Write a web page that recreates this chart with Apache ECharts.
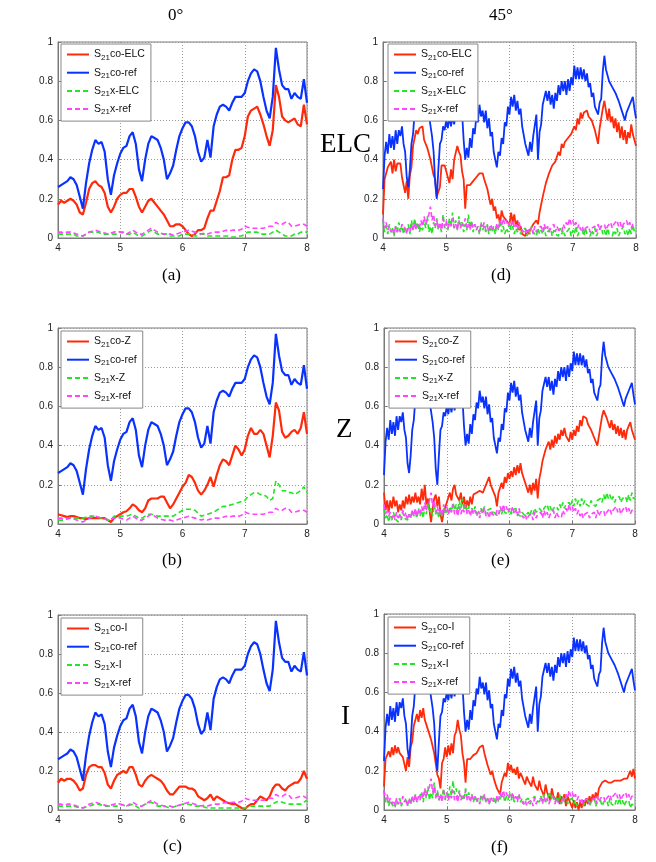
<!DOCTYPE html>
<html>
<head>
<meta charset="utf-8">
<script src="https://cdn.jsdelivr.net/npm/echarts@6/dist/echarts.min.js"></script>
<style>
html,body{margin:0;padding:0;background:#fff;}
#c{width:656px;height:862px;}
</style>
</head>
<body>
<div id="c"></div>
<script>
// ---------- 0 degree data (x = 4..8 GHz, step 0.05) ----------
const ref0Co = [0.26,0.27,0.28,0.29,0.31,0.30,0.27,0.21,0.15,0.28,
 0.38,0.45,0.50,0.48,0.49,0.44,0.30,0.22,0.32,0.38,
 0.43,0.46,0.47,0.52,0.54,0.48,0.35,0.29,0.40,0.48,
 0.52,0.51,0.50,0.46,0.40,0.30,0.33,0.37,0.45,0.52,
 0.56,0.59,0.59,0.57,0.52,0.44,0.39,0.41,0.50,0.41,
 0.57,0.63,0.67,0.68,0.67,0.65,0.69,0.72,0.72,0.72,
 0.74,0.80,0.84,0.86,0.85,0.80,0.72,0.65,0.61,0.72,
 0.97,0.86,0.78,0.76,0.76,0.71,0.74,0.72,0.71,0.81,
 0.69];
const ref0X = [0.03,0.03,0.025,0.03,0.03,0.025,0.02,0.015,0.01,0.02,
 0.03,0.035,0.04,0.035,0.03,0.025,0.02,0.025,0.03,0.035,
 0.03,0.025,0.02,0.03,0.04,0.03,0.02,0.02,0.03,0.04,
 0.05,0.04,0.03,0.025,0.02,0.02,0.02,0.015,0.02,0.025,
 0.03,0.035,0.04,0.035,0.03,0.025,0.02,0.025,0.02,0.025,
 0.03,0.03,0.03,0.035,0.04,0.035,0.04,0.04,0.04,0.045,
 0.06,0.055,0.05,0.05,0.05,0.05,0.05,0.055,0.06,0.06,
 0.08,0.07,0.07,0.08,0.08,0.06,0.06,0.065,0.07,0.07,
 0.06];
const elc0Co = [0.17,0.19,0.18,0.19,0.20,0.19,0.17,0.13,0.12,0.18,
 0.25,0.28,0.29,0.27,0.26,0.23,0.16,0.13,0.16,0.20,
 0.22,0.23,0.23,0.25,0.25,0.21,0.16,0.13,0.16,0.19,
 0.20,0.18,0.16,0.14,0.12,0.09,0.06,0.06,0.07,0.07,
 0.06,0.04,0.02,0.01,0.02,0.04,0.04,0.05,0.10,0.14,
 0.14,0.19,0.24,0.31,0.31,0.32,0.40,0.45,0.45,0.46,
 0.52,0.62,0.65,0.66,0.67,0.63,0.58,0.52,0.47,0.55,
 0.78,0.72,0.62,0.60,0.59,0.60,0.61,0.58,0.57,0.68,
 0.58];
const elc0X = [0.02,0.02,0.02,0.02,0.02,0.02,0.01,0.01,0.01,0.02,
 0.03,0.03,0.03,0.03,0.02,0.02,0.02,0.02,0.02,0.02,
 0.03,0.03,0.02,0.02,0.03,0.02,0.01,0.01,0.02,0.03,
 0.04,0.03,0.02,0.02,0.02,0.02,0.01,0.01,0.01,0.01,
 0.02,0.02,0.02,0.02,0.01,0.01,0.02,0.02,0.01,0.01,
 0.01,0.01,0.01,0.01,0.01,0.01,0.005,0.005,0.01,0.01,
 0.02,0.03,0.03,0.03,0.03,0.02,0.02,0.02,0.02,0.03,
 0.04,0.03,0.02,0.01,0.01,0.01,0.02,0.02,0.03,0.03,
 0.03];
const z0Co = [0.05,0.045,0.04,0.035,0.04,0.04,0.035,0.03,0.03,0.025,
 0.03,0.03,0.03,0.03,0.03,0.03,0.02,0.01,0.03,0.04,
 0.05,0.06,0.065,0.08,0.10,0.09,0.07,0.06,0.08,0.12,
 0.13,0.13,0.13,0.14,0.14,0.11,0.08,0.10,0.13,0.16,
 0.19,0.21,0.25,0.24,0.21,0.17,0.15,0.17,0.20,0.24,
 0.19,0.25,0.30,0.33,0.32,0.30,0.35,0.40,0.38,0.35,
 0.38,0.45,0.49,0.46,0.46,0.48,0.46,0.40,0.34,0.45,
 0.62,0.58,0.47,0.44,0.45,0.47,0.48,0.46,0.49,0.57,
 0.46];
const z0X = [0.02,0.02,0.02,0.025,0.03,0.03,0.03,0.03,0.03,0.035,
 0.04,0.04,0.04,0.035,0.03,0.03,0.02,0.02,0.04,0.04,
 0.04,0.04,0.04,0.045,0.05,0.04,0.03,0.03,0.04,0.05,
 0.05,0.045,0.04,0.04,0.04,0.04,0.04,0.04,0.05,0.06,
 0.07,0.075,0.075,0.075,0.07,0.055,0.04,0.045,0.05,0.055,
 0.06,0.07,0.08,0.09,0.09,0.095,0.10,0.105,0.11,0.115,
 0.12,0.14,0.15,0.16,0.16,0.15,0.15,0.14,0.12,0.13,
 0.22,0.20,0.17,0.17,0.16,0.16,0.15,0.16,0.17,0.19,
 0.16];
const i0Co = [0.14,0.16,0.15,0.16,0.16,0.15,0.13,0.10,0.11,0.18,
 0.22,0.23,0.23,0.22,0.22,0.19,0.13,0.11,0.15,0.18,
 0.19,0.20,0.19,0.22,0.22,0.18,0.13,0.12,0.15,0.17,
 0.18,0.17,0.16,0.15,0.13,0.10,0.08,0.08,0.10,0.12,
 0.12,0.12,0.11,0.11,0.10,0.07,0.06,0.05,0.06,0.08,
 0.05,0.07,0.06,0.05,0.04,0.035,0.03,0.03,0.02,0.01,
 0.005,0.02,0.03,0.03,0.05,0.07,0.06,0.05,0.07,0.11,
 0.13,0.13,0.11,0.10,0.12,0.13,0.14,0.14,0.16,0.20,
 0.16];
const i0X = [0.02,0.02,0.02,0.02,0.02,0.02,0.015,0.015,0.01,0.015,
 0.02,0.025,0.03,0.03,0.025,0.02,0.02,0.02,0.02,0.02,
 0.03,0.025,0.02,0.025,0.03,0.02,0.01,0.02,0.03,0.035,
 0.04,0.03,0.02,0.02,0.02,0.015,0.01,0.015,0.02,0.025,
 0.03,0.03,0.03,0.025,0.02,0.02,0.02,0.015,0.01,0.01,
 0.01,0.01,0.01,0.01,0.01,0.01,0.01,0.01,0.01,0.01,
 0.01,0.015,0.02,0.02,0.02,0.02,0.02,0.02,0.02,0.03,
 0.04,0.045,0.04,0.035,0.03,0.03,0.03,0.03,0.03,0.04,
 0.05];

// ---------- 45 degree data (x = 4..8 GHz, step 0.025) ----------
const ref45Co = [0.25,0.42,0.49,0.43,0.53,0.46,0.52,0.45,0.55,0.48,
 0.55,0.52,0.57,0.48,0.44,0.31,0.26,0.35,0.48,0.53,
 0.64,0.63,0.70,0.67,0.72,0.65,0.71,0.64,0.72,0.63,
 0.64,0.52,0.44,0.28,0.20,0.35,0.48,0.50,0.57,0.55,
 0.60,0.56,0.62,0.57,0.62,0.58,0.64,0.60,0.66,0.61,
 0.64,0.50,0.40,0.46,0.41,0.51,0.46,0.56,0.53,0.62,
 0.59,0.68,0.62,0.65,0.59,0.65,0.56,0.61,0.52,0.54,
 0.44,0.43,0.36,0.44,0.42,0.51,0.48,0.59,0.57,0.67,
 0.63,0.72,0.67,0.73,0.65,0.70,0.63,0.66,0.57,0.58,
 0.48,0.49,0.42,0.49,0.44,0.52,0.52,0.63,0.40,0.54,
 0.58,0.68,0.67,0.75,0.70,0.75,0.68,0.73,0.66,0.74,
 0.70,0.78,0.73,0.80,0.75,0.80,0.73,0.81,0.75,0.82,
 0.78,0.88,0.81,0.87,0.81,0.87,0.81,0.86,0.80,0.84,
 0.77,0.79,0.72,0.74,0.67,0.68,0.63,0.69,0.71,0.85,
 0.93,0.86,0.85,0.80,0.79,0.77,0.77,0.74,0.73,0.70,
 0.70,0.65,0.65,0.60,0.64,0.63,0.68,0.69,0.72,0.66,
 0.61];
const ref45X = [0.10,0.05,0.08,0.04,0.06,0.03,0.05,0.02,0.06,0.03,
 0.05,0.03,0.07,0.04,0.06,0.02,0.05,0.03,0.07,0.04,
 0.08,0.04,0.07,0.05,0.09,0.06,0.11,0.07,0.10,0.12,
 0.16,0.09,0.12,0.06,0.09,0.05,0.08,0.04,0.10,0.06,
 0.09,0.05,0.08,0.06,0.10,0.05,0.07,0.04,0.09,0.05,
 0.08,0.06,0.10,0.05,0.07,0.04,0.08,0.05,0.07,0.04,
 0.06,0.03,0.07,0.05,0.08,0.04,0.06,0.03,0.07,0.05,
 0.06,0.04,0.07,0.05,0.09,0.06,0.10,0.07,0.09,0.06,
 0.08,0.06,0.09,0.05,0.07,0.04,0.08,0.05,0.06,0.03,
 0.05,0.02,0.04,0.03,0.05,0.02,0.06,0.03,0.05,0.04,
 0.06,0.03,0.07,0.04,0.06,0.03,0.05,0.04,0.07,0.03,
 0.06,0.04,0.05,0.03,0.07,0.05,0.08,0.06,0.10,0.07,
 0.09,0.06,0.08,0.05,0.07,0.04,0.06,0.03,0.05,0.04,
 0.06,0.03,0.05,0.04,0.06,0.03,0.07,0.04,0.06,0.05,
 0.07,0.04,0.06,0.05,0.08,0.05,0.07,0.06,0.09,0.06,
 0.08,0.05,0.07,0.06,0.09,0.06,0.08,0.05,0.07,0.06,
 0.07];
const elc45Co = [0.12,0.30,0.33,0.36,0.35,0.39,0.33,0.40,0.34,0.38,
 0.37,0.38,0.31,0.32,0.23,0.29,0.20,0.32,0.36,0.47,
 0.48,0.55,0.53,0.56,0.55,0.57,0.50,0.51,0.46,0.46,
 0.40,0.40,0.32,0.30,0.21,0.21,0.26,0.37,0.37,0.37,
 0.34,0.33,0.28,0.35,0.30,0.40,0.40,0.47,0.44,0.42,
 0.34,0.30,0.15,0.27,0.26,0.27,0.26,0.29,0.29,0.31,
 0.30,0.33,0.32,0.33,0.30,0.30,0.25,0.24,0.17,0.20,
 0.14,0.16,0.10,0.12,0.07,0.14,0.11,0.12,0.09,0.10,
 0.07,0.13,0.08,0.12,0.06,0.09,0.04,0.06,0.02,0.03,
 0.01,0.04,0.02,0.04,0.03,0.07,0.06,0.09,0.07,0.13,
 0.13,0.21,0.21,0.28,0.27,0.33,0.32,0.37,0.36,0.39,
 0.39,0.44,0.42,0.48,0.46,0.49,0.49,0.51,0.50,0.53,
 0.52,0.57,0.55,0.61,0.58,0.64,0.61,0.64,0.64,0.65,
 0.62,0.63,0.60,0.60,0.55,0.55,0.48,0.56,0.56,0.66,
 0.70,0.65,0.60,0.66,0.59,0.62,0.56,0.61,0.54,0.59,
 0.51,0.57,0.50,0.55,0.48,0.54,0.51,0.58,0.53,0.54,
 0.47];
const elc45X = [0.09,0.03,0.06,0.02,0.07,0.03,0.05,0.01,0.06,0.03,
 0.08,0.04,0.06,0.02,0.05,0.03,0.07,0.02,0.09,0.04,
 0.10,0.05,0.08,0.03,0.06,0.04,0.09,0.05,0.11,0.03,
 0.06,0.02,0.08,0.05,0.10,0.04,0.07,0.03,0.12,0.05,
 0.08,0.04,0.10,0.06,0.13,0.05,0.09,0.04,0.11,0.06,
 0.08,0.03,0.07,0.04,0.12,0.05,0.09,0.03,0.07,0.04,
 0.06,0.02,0.08,0.04,0.06,0.03,0.07,0.02,0.05,0.03,
 0.06,0.02,0.07,0.04,0.09,0.03,0.06,0.02,0.05,0.03,
 0.08,0.04,0.06,0.02,0.05,0.03,0.06,0.02,0.04,0.03,
 0.05,0.01,0.04,0.02,0.06,0.03,0.04,0.01,0.05,0.02,
 0.04,0.02,0.05,0.01,0.03,0.02,0.05,0.01,0.04,0.02,
 0.03,0.01,0.05,0.02,0.04,0.01,0.03,0.02,0.05,0.01,
 0.04,0.02,0.06,0.01,0.03,0.02,0.04,0.01,0.05,0.02,
 0.03,0.01,0.04,0.02,0.05,0.01,0.03,0.02,0.06,0.02,
 0.04,0.01,0.05,0.02,0.03,0.01,0.04,0.02,0.05,0.01,
 0.03,0.02,0.06,0.02,0.04,0.01,0.05,0.02,0.07,0.03,
 0.04];
const z45Co = [0.16,0.07,0.12,0.06,0.12,0.08,0.14,0.09,0.12,0.06,
 0.10,0.07,0.12,0.08,0.14,0.10,0.15,0.10,0.14,0.11,
 0.16,0.11,0.14,0.10,0.18,0.12,0.20,0.10,0.13,0.07,
 0.01,0.08,0.13,0.15,0.09,0.14,0.05,0.01,0.06,0.06,
 0.11,0.12,0.16,0.12,0.18,0.20,0.15,0.15,0.12,0.16,
 0.10,0.14,0.08,0.12,0.09,0.14,0.10,0.15,0.15,0.16,
 0.16,0.17,0.17,0.16,0.16,0.20,0.19,0.24,0.20,0.20,
 0.16,0.14,0.09,0.16,0.16,0.21,0.18,0.24,0.21,0.26,
 0.23,0.27,0.24,0.29,0.25,0.30,0.26,0.31,0.26,0.26,
 0.21,0.21,0.16,0.20,0.15,0.21,0.17,0.23,0.13,0.23,
 0.27,0.32,0.33,0.38,0.37,0.42,0.38,0.43,0.39,0.45,
 0.41,0.46,0.43,0.48,0.45,0.49,0.45,0.46,0.42,0.47,
 0.43,0.48,0.45,0.50,0.47,0.53,0.50,0.55,0.54,0.54,
 0.51,0.51,0.48,0.48,0.44,0.44,0.40,0.45,0.46,0.55,
 0.58,0.59,0.54,0.54,0.49,0.53,0.48,0.51,0.46,0.50,
 0.45,0.49,0.44,0.48,0.43,0.48,0.47,0.52,0.48,0.48,
 0.43];
const z45X = [0.08,0.03,0.05,0.01,0.04,0.02,0.06,0.03,0.04,0.01,
 0.05,0.02,0.06,0.03,0.04,0.02,0.05,0.03,0.07,0.04,
 0.06,0.03,0.08,0.04,0.07,0.03,0.09,0.05,0.11,0.06,
 0.08,0.04,0.10,0.05,0.07,0.03,0.06,0.04,0.08,0.05,
 0.07,0.05,0.09,0.06,0.11,0.07,0.10,0.06,0.12,0.08,
 0.13,0.07,0.10,0.06,0.09,0.05,0.08,0.06,0.09,0.05,
 0.07,0.05,0.08,0.06,0.09,0.05,0.07,0.06,0.08,0.05,
 0.07,0.05,0.06,0.04,0.07,0.05,0.08,0.06,0.07,0.05,
 0.08,0.05,0.07,0.06,0.08,0.05,0.06,0.04,0.06,0.05,
 0.04,0.05,0.06,0.04,0.07,0.05,0.08,0.06,0.07,0.08,
 0.09,0.06,0.08,0.07,0.10,0.07,0.09,0.06,0.08,0.07,
 0.09,0.07,0.10,0.08,0.11,0.08,0.10,0.09,0.11,0.09,
 0.12,0.09,0.13,0.10,0.12,0.09,0.13,0.10,0.12,0.10,
 0.11,0.09,0.12,0.10,0.11,0.09,0.12,0.11,0.13,0.11,
 0.15,0.12,0.16,0.13,0.15,0.12,0.14,0.11,0.13,0.12,
 0.14,0.11,0.13,0.12,0.14,0.11,0.15,0.12,0.16,0.13,
 0.13];
const i45Co = [0.12,0.26,0.27,0.30,0.27,0.32,0.28,0.33,0.29,0.32,
 0.29,0.30,0.27,0.27,0.20,0.27,0.22,0.32,0.35,0.43,
 0.44,0.49,0.45,0.51,0.47,0.52,0.46,0.47,0.41,0.42,
 0.36,0.37,0.29,0.28,0.18,0.16,0.11,0.24,0.26,0.32,
 0.27,0.33,0.28,0.34,0.29,0.38,0.40,0.46,0.41,0.38,
 0.29,0.24,0.14,0.26,0.25,0.26,0.26,0.28,0.28,0.29,
 0.30,0.32,0.32,0.33,0.29,0.28,0.23,0.23,0.18,0.20,
 0.16,0.16,0.11,0.12,0.08,0.14,0.13,0.19,0.17,0.24,
 0.20,0.23,0.19,0.21,0.18,0.22,0.16,0.19,0.17,0.18,
 0.13,0.17,0.15,0.16,0.12,0.17,0.13,0.14,0.10,0.15,
 0.11,0.12,0.07,0.13,0.09,0.10,0.05,0.11,0.07,0.08,
 0.05,0.09,0.03,0.07,0.05,0.08,0.02,0.07,0.05,0.04,
 0.01,0.05,0.01,0.04,0.00,0.04,0.01,0.05,0.02,0.06,
 0.03,0.07,0.04,0.08,0.05,0.09,0.06,0.11,0.10,0.14,
 0.13,0.15,0.14,0.14,0.13,0.14,0.13,0.15,0.14,0.15,
 0.14,0.15,0.14,0.16,0.15,0.16,0.16,0.20,0.17,0.21,
 0.16];
const i45X = [0.10,0.04,0.06,0.02,0.05,0.03,0.04,0.01,0.05,0.03,
 0.06,0.02,0.04,0.03,0.05,0.02,0.06,0.03,0.07,0.04,
 0.08,0.04,0.06,0.05,0.09,0.04,0.10,0.06,0.12,0.05,
 0.09,0.06,0.14,0.07,0.10,0.05,0.08,0.06,0.11,0.05,
 0.09,0.06,0.12,0.07,0.15,0.08,0.11,0.06,0.10,0.07,
 0.08,0.05,0.11,0.06,0.09,0.05,0.08,0.04,0.07,0.05,
 0.06,0.04,0.08,0.05,0.07,0.04,0.06,0.03,0.05,0.04,
 0.06,0.03,0.07,0.04,0.06,0.05,0.08,0.04,0.07,0.05,
 0.09,0.05,0.07,0.04,0.06,0.05,0.07,0.04,0.06,0.03,
 0.05,0.04,0.06,0.03,0.05,0.04,0.07,0.05,0.06,0.04,
 0.07,0.05,0.08,0.04,0.06,0.05,0.09,0.05,0.07,0.04,
 0.06,0.04,0.08,0.03,0.06,0.04,0.07,0.03,0.05,0.04,
 0.06,0.03,0.05,0.02,0.04,0.03,0.05,0.02,0.04,0.03,
 0.05,0.02,0.04,0.03,0.06,0.02,0.04,0.03,0.05,0.02,
 0.04,0.03,0.05,0.02,0.06,0.03,0.04,0.02,0.05,0.03,
 0.06,0.03,0.05,0.02,0.04,0.03,0.05,0.01,0.03,0.02,
 0.02];

const xTicks = [4, 5, 6, 7, 8];
const yTicks = [0, 0.2, 0.4, 0.6, 0.8, 1];
const columnTitles = ['0°', '45°'];
const rowTitles = ['ELC', 'Z', 'I'];
const panelLabels = ['(a)', '(b)', '(c)', '(d)', '(e)', '(f)'];

// ---------- layout ----------
const panels = [
  {grid:{left:58, top:42, width:249, height:196}, tag:'ELC', co:elc0Co, ref:ref0Co, x:elc0X, xr:ref0X, noisy:false, leg:{left:61, top:44}, lab:[174,277]},
  {grid:{left:58, top:328, width:249, height:196}, tag:'Z', co:z0Co, ref:ref0Co, x:z0X, xr:ref0X, noisy:false, leg:{left:61, top:331}, lab:[174,562]},
  {grid:{left:58, top:615, width:249, height:195}, tag:'I', co:i0Co, ref:ref0Co, x:i0X, xr:ref0X, noisy:false, leg:{left:61, top:618}, lab:[175,848]},
  {grid:{left:383, top:42, width:253, height:196}, tag:'ELC', co:elc45Co, ref:ref45Co, x:elc45X, xr:ref45X, noisy:true, leg:{left:388, top:44}, lab:[503,277]},
  {grid:{left:384, top:328, width:251, height:196}, tag:'Z', co:z45Co, ref:ref45Co, x:z45X, xr:ref45X, noisy:true, leg:{left:389, top:331}, lab:[503,562]},
  {grid:{left:384, top:614, width:251, height:196}, tag:'I', co:i45Co, ref:ref45Co, x:i45X, xr:ref45X, noisy:true, leg:{left:388, top:617}, lab:[503,849]}
];

const RED = '#ff2a0a', BLUE = '#0a32ff', GREEN = '#22e622', MAG = '#ff45ff';
const xmin = xTicks[0], xmax = xTicks[xTicks.length-1];
function pts(arr){ return arr.map((v,i)=>[xmin + (xmax-xmin)*i/(arr.length-1), v]); }

const grids = [], xAxes = [], yAxes = [], series = [], legends = [], graphics = [];
const axisCol = '#7a7a7a';
panels.forEach((p, k) => {
  grids.push(Object.assign({show:true, borderColor:axisCol, borderWidth:1, backgroundColor:'#fff'}, p.grid));
  xAxes.push({
    type:'value', gridIndex:k, min:xmin, max:xmax, interval:1,
    axisLine:{show:true, lineStyle:{color:axisCol}},
    axisTick:{show:true, inside:true, length:3, lineStyle:{color:axisCol}},
    axisLabel:{color:'#222', fontSize:10, fontFamily:'Liberation Sans, Arial', margin:5},
    splitLine:{show:true, lineStyle:{color:'#9a9a9a', type:[1,2], width:1}}
  });
  yAxes.push({
    type:'value', gridIndex:k, min:yTicks[0], max:yTicks[yTicks.length-1], interval:0.2,
    axisLine:{show:true, lineStyle:{color:axisCol}},
    axisTick:{show:true, inside:true, length:3, lineStyle:{color:axisCol}},
    axisLabel:{color:'#222', fontSize:10, fontFamily:'Liberation Sans, Arial', margin:5},
    splitLine:{show:true, lineStyle:{color:'#9a9a9a', type:[1,2], width:1}}
  });
  const wCo = p.noisy ? 1.8 : 2.2;
  const names = ['S21co-'+p.tag, 'S21co-ref', 'S21x-'+p.tag, 'S21x-ref'];
  const defs = [
    {d:p.co, c:RED, t:'solid', w:wCo},
    {d:p.ref, c:BLUE, t:'solid', w:wCo},
    {d:p.x, c:GREEN, t:[5,3], w:1.6},
    {d:p.xr, c:MAG, t:[5,3], w:1.6}
  ];
  defs.forEach((s, j) => {
    series.push({
      type:'line', name:names[j], xAxisIndex:k, yAxisIndex:k,
      data:pts(s.d), showSymbol:false, symbol:'none', smooth:false,
      lineStyle:{color:s.c, width:s.w, type:s.t}, itemStyle:{color:s.c},
      clip:true, animation:false, z:2+j*0.1
    });
  });
  legends.push({
    data:names, left:p.leg.left, top:p.leg.top, orient:'vertical',
    backgroundColor:'#fff', borderColor:'#888', borderWidth:1, borderRadius:0,
    padding:[5,6,5,5], itemGap:5.7, itemWidth:22, itemHeight:13,
    selectedMode:false, z:10,
    itemStyle:{opacity:0},
    lineStyle:{width:2},
    formatter: n => '{s|S}{b|21}{s|' + n.slice(3) + '}',
    textStyle:{
      rich:{
        s:{fontSize:10.5, fontFamily:'Liberation Sans, Arial', color:'#111', lineHeight:14},
        b:{fontSize:8, fontFamily:'Liberation Sans, Arial', color:'#111', lineHeight:14, verticalAlign:'bottom'}
      }
    }
  });
  graphics.push({type:'text', left:p.lab[0]-12, top:p.lab[1]-10, z:20,
    style:{text:panelLabels[k], font:'17px "Liberation Serif", "Times New Roman", serif', fill:'#000'}});
});

const titleFont = '17px "Liberation Serif", "Times New Roman", serif';
graphics.push({type:'text', left:168, top:7, style:{text:columnTitles[0], font:titleFont, fill:'#000'}});
graphics.push({type:'text', left:489, top:7, style:{text:columnTitles[1], font:titleFont, fill:'#000'}});
const rowFont = '27px "Liberation Serif", "Times New Roman", serif';
graphics.push({type:'text', left:320, top:131, z:20, style:{text:rowTitles[0], font:rowFont, fill:'#000'}});
graphics.push({type:'text', left:336, top:416, z:20, style:{text:rowTitles[1], font:rowFont, fill:'#000'}});
graphics.push({type:'text', left:341, top:703, z:20, style:{text:rowTitles[2], font:rowFont, fill:'#000'}});

const chart = echarts.init(document.getElementById('c'), null, {renderer:'canvas'});
chart.setOption({
  animation:false,
  backgroundColor:'#fff',
  grid:grids, xAxis:xAxes, yAxis:yAxes, series:series, legend:legends,
  graphic:graphics
});
</script>
</body>
</html>
